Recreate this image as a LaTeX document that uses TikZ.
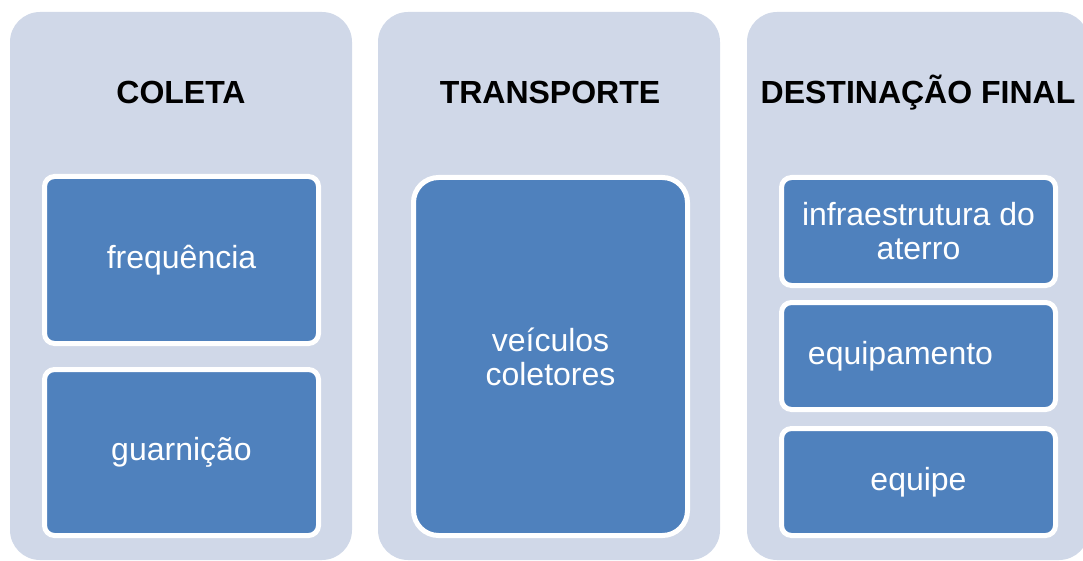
\documentclass[tikz,border=0pt]{standalone}
\usepackage{fontspec}
\setmainfont{Liberation Sans}
\usetikzlibrary{positioning}
\definecolor{panelgray}{RGB}{208,216,232}
\definecolor{boxblue}{RGB}{79,129,189}
\tikzset{%
  % Specifications for style of nodes:
         panel/.style = {rectangle, rounded corners=30pt, fill=panelgray,
                         minimum width=342pt, minimum height=548pt,
                         inner sep=0pt},
         title/.style = {anchor=base, font=\fontsize{32}{36}\selectfont\bfseries},
          item/.style = {rectangle, rounded corners=10pt, draw=white,
                         line width=5pt, fill=boxblue, text=white,
                         minimum width=274pt, align=center,
                         font=\fontsize{32}{34}\selectfont},
}
\begin{document}
\begin{tikzpicture}[x=1pt, y=-1pt]
  \path[use as bounding box, clip] (0,0) rectangle (1083,561);
  % Specification of panels and titles
  \node (coleta)     [panel] at (181,286) {};
  \node (transporte) [panel] at (549,286) {};
  \node (destino)    [panel] at (918,286) {};
  \node (tcoleta)     [title] at (181,104) {COLETA};
  \node (ttransporte) [title] at (550,104) {TRANSPORTE};
  \node (tdestino)    [title] at (918,104) {DESTINAÇÃO FINAL};
  % Specification of the boxes in each panel
  \node (freq)   [item, minimum height=167pt] at (181.5,260) {frequência};
  \node (guarn)  [item, minimum height=166pt] at (181.5,452.5) {guarnição};
  \node (veic)   [item, minimum height=358pt, rounded corners=25pt]
                 at (550.5,356.5) {veículos\\coletores};
  \node (infra)  [item, minimum height=108pt] at (918.5,231.5)
                 {infraestrutura do\\aterro};
  \node (equip)  [item, minimum height=107pt] at (918.5,356)
                 {equipamento\hspace*{36pt}};
  \node (equipe) [item, minimum height=107pt] at (918.5,482) {equipe};
\end{tikzpicture}
\end{document}
